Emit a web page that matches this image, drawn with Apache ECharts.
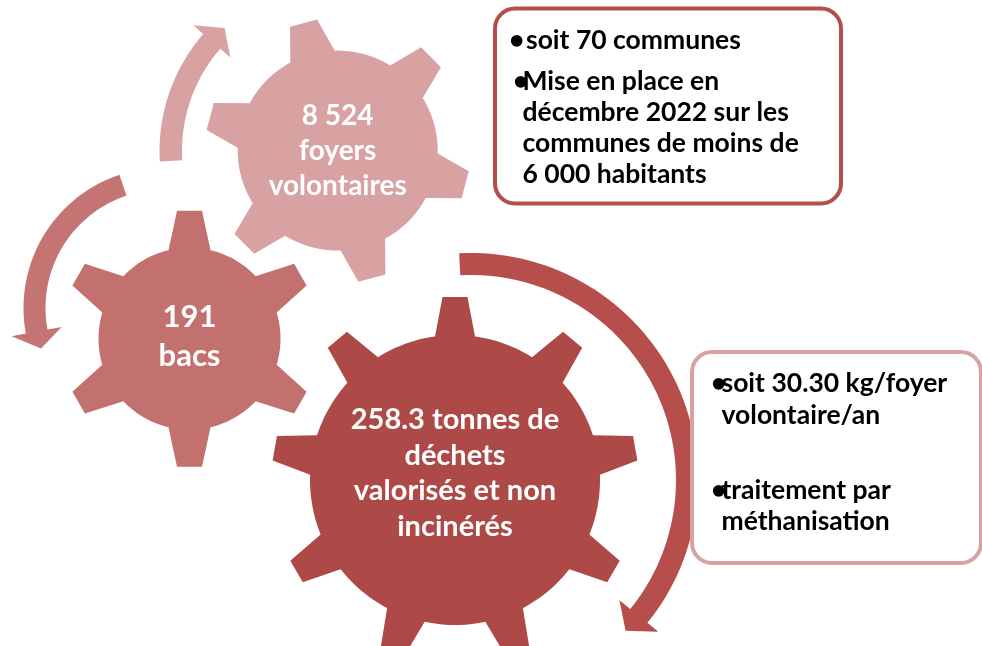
<!DOCTYPE html>
<html>
<head>
<meta charset="utf-8">
<script src="https://cdn.jsdelivr.net/npm/echarts@6/dist/echarts.min.js"></script>
<style>
  html, body { margin: 0; padding: 0; background: #fff; }
  #main { width: 982px; height: 646px; }
</style>
</head>
<body>
<div id="main"></div>
<script>
// texts in the gears: small, medium, big
const gearLabels = ['8 524\nfoyers\nvolontaires', '191\nbacs', '258.3 tonnes de\ndéchets\nvalorisés et non\nincinérés'];
const gearTeeth = [6, 6, 9];
// bullet paragraphs of the two boxes
const boxTopItems = ['soit 70 communes', 'Mise en place en\ndécembre 2022 sur les\ncommunes de moins de\n6 000 habitants'];
const boxRightItems = ['soit 30.30 kg/foyer\nvolontaire/an', 'traitement par\nméthanisation'];

// layout (page pixels, y down, angles in degrees clockwise)
const gearLayout = [
  { cx: 337.7, cy: 150.6, rBody: 100, rTip: 132, tipW: 28, baseW: 46, start: -105, color: '#D8A2A2', font: 28, lh: 35, dy: 0 },
  { cx: 189.5, cy: 338.7, rBody: 91, rTip: 128, tipW: 25, baseW: 42, start: -90, color: '#C3716F', font: 31, lh: 39, dy: -2 },
  { cx: 455, cy: 480, rBody: 145, rTip: 183, tipW: 25, baseW: 40, start: -90, color: '#AD4A47', font: 29, lh: 35.5, dy: -7 }
];
const arrowLayout = [
  { cx: 338, cy: 151, rIn: 156, rOut: 178.5, from: 176.6, to: 221, tip: 227.3, wing: 24.5, color: '#D8A2A2' },
  { cx: 164, cy: 308, rIn: 118.5, rOut: 140.5, from: 251.5, to: 169.5, tip: 161.8, wing: 25.5, color: '#C47472' },
  { cx: 471, cy: 480, rIn: 205, rOut: 227, from: -93, to: 39, tip: 44.3, wing: 25, color: '#B64F4C' }
];
const boxLayout = [
  { x: 495, y: 8.5, w: 346, h: 195, stroke: '#B34E4B', bulletX: [509, 513], textX: [526, 522.5], lineY: [40, 81.7], font: 26.5, lh: 31 },
  { x: 692, y: 352, w: 289, h: 211, stroke: '#D8A2A2', bulletX: [711, 711], textX: [721.5, 721.5], lineY: [383.3, 490], font: 26.5, lh: 31.7 }
];
const boxItems = [boxTopItems, boxRightItems];

const FONT = 'Lato, "Open Sans", sans-serif';
const RAD = Math.PI / 180;

function polar(cx, cy, r, deg) {
  return [cx + r * Math.cos(deg * RAD), cy + r * Math.sin(deg * RAD)];
}

function renderArrow(params, api) {
  const a = arrowLayout[api.value(2)];
  const dir = a.to > a.from ? 1 : -1;
  const mid = (a.rIn + a.rOut) / 2;
  const outer = [], inner = [];
  for (let t = a.from; dir * (a.to - t) > 0; t += dir * 2) {
    outer.push(polar(a.cx, a.cy, a.rOut, t));
    inner.push(polar(a.cx, a.cy, a.rIn, t));
  }
  outer.push(polar(a.cx, a.cy, a.rOut, a.to));
  inner.push(polar(a.cx, a.cy, a.rIn, a.to));
  const pts = outer.concat([
    polar(a.cx, a.cy, mid + a.wing, a.to),
    polar(a.cx, a.cy, mid, a.tip),
    polar(a.cx, a.cy, mid - a.wing, a.to)
  ], inner.reverse());
  return {
    type: 'polygon',
    shape: { points: pts.map(p => api.coord(p)) },
    style: { fill: a.color }
  };
}

function renderGear(params, api) {
  const i = api.value(2);
  const g = gearLayout[i];
  const n = gearTeeth[i];
  const step = 360 / n;
  const db = Math.asin(g.baseW / 2 / g.rBody) / RAD;
  const pts = [];
  for (let k = 0; k < n; k++) {
    const a = g.start + k * step;
    const u = [Math.cos(a * RAD), Math.sin(a * RAD)];
    const v = [-u[1], u[0]];
    pts.push(polar(g.cx, g.cy, g.rBody, a - db));
    pts.push([g.cx + g.rTip * u[0] - g.tipW / 2 * v[0], g.cy + g.rTip * u[1] - g.tipW / 2 * v[1]]);
    pts.push([g.cx + g.rTip * u[0] + g.tipW / 2 * v[0], g.cy + g.rTip * u[1] + g.tipW / 2 * v[1]]);
    pts.push(polar(g.cx, g.cy, g.rBody, a + db));
    for (let t = a + db + 2; t < a + step - db; t += 2) {
      pts.push(polar(g.cx, g.cy, g.rBody, t));
    }
  }
  const c = api.coord([g.cx, g.cy + g.dy]);
  return {
    type: 'group',
    children: [
      { type: 'polygon', shape: { points: pts.map(p => api.coord(p)) }, style: { fill: g.color } },
      {
        type: 'text', x: c[0], y: c[1],
        style: {
          text: gearLabels[i], fill: '#fff', align: 'center', verticalAlign: 'middle',
          fontFamily: FONT, fontWeight: 'bold', fontSize: g.font, lineHeight: g.lh
        }
      }
    ]
  };
}

function renderBox(params, api) {
  const i = api.value(2);
  const b = boxLayout[i];
  const p0 = api.coord([b.x, b.y]);
  const children = [{
    type: 'rect',
    shape: { x: p0[0], y: p0[1], width: b.w, height: b.h, r: 20 },
    style: { fill: '#fff', stroke: b.stroke, lineWidth: 4 }
  }];
  boxItems[i].forEach((txt, j) => {
    const top = api.coord([b.textX[j], b.lineY[j] - b.lh / 2]);
    const bul = api.coord([b.bulletX[j], b.lineY[j] - b.lh / 2]);
    const st = { fill: '#000', fontFamily: FONT, fontWeight: 'bold', fontSize: b.font, lineHeight: b.lh, align: 'left', verticalAlign: 'top' };
    children.push({ type: 'text', x: bul[0], y: bul[1], style: Object.assign({}, st, { text: '•' }) });
    children.push({ type: 'text', x: top[0], y: top[1], style: Object.assign({ text: txt }, st) });
  });
  return { type: 'group', children: children };
}

const chart = echarts.init(document.getElementById('main'));
chart.setOption({
  animation: false,
  grid: { left: 0, right: 0, top: 0, bottom: 0 },
  xAxis: { type: 'value', min: 0, max: 982, show: false },
  yAxis: { type: 'value', min: 0, max: 646, inverse: true, show: false },
  series: [
    { type: 'custom', silent: true, z: 1, data: arrowLayout.map((a, i) => [a.cx, a.cy, i]), renderItem: renderArrow },
    { type: 'custom', silent: true, z: 2, data: gearLabels.map((t, i) => [gearLayout[i].cx, gearLayout[i].cy, i]), renderItem: renderGear },
    { type: 'custom', silent: true, z: 3, data: boxLayout.map((b, i) => [b.x, b.y, i]), renderItem: renderBox }
  ]
});
</script>
</body>
</html>
